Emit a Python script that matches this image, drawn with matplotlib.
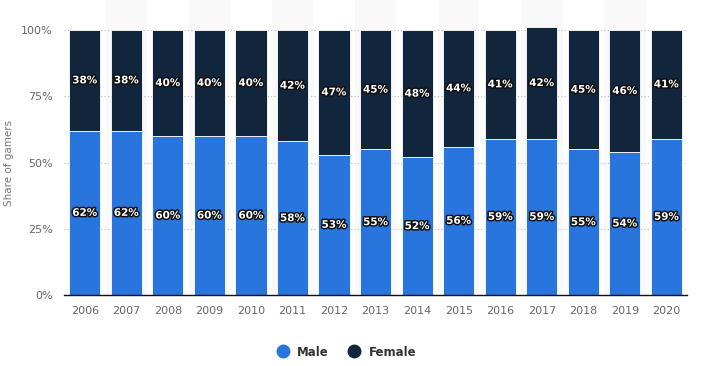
import matplotlib.pyplot as plt
import matplotlib.patheffects as pe
from matplotlib.lines import Line2D

# Data
years = ["2006", "2007", "2008", "2009", "2010", "2011", "2012", "2013",
         "2014", "2015", "2016", "2017", "2018", "2019", "2020"]
male = [62, 62, 60, 60, 60, 58, 53, 55, 52, 56, 59, 59, 55, 54, 59]
female = [38, 38, 40, 40, 40, 42, 47, 45, 48, 44, 41, 42, 45, 46, 41]

MALE_COLOR = "#2876dd"
FEMALE_COLOR = "#11263c"

fig = plt.figure(figsize=(7.01, 3.66), dpi=100)
ax = fig.add_axes([0.0913, 0.194, 0.889, 0.724])

x = list(range(len(years)))

# faint alternating column bands
for i in x:
    if i % 2 == 1:
        ax.axvspan(i - 0.5, i + 0.5, ymin=0, ymax=1.12, color="#f9f9f9",
                   zorder=0, clip_on=False, lw=0)

ax.bar(x, male, width=0.75, color=MALE_COLOR, zorder=2, clip_on=False,
       edgecolor="white", linewidth=0.6)
ax.bar(x, female, width=0.75, bottom=male, color=FEMALE_COLOR, zorder=2,
       clip_on=False, edgecolor="white", linewidth=0.6)

stroke = [pe.withStroke(linewidth=2.2, foreground="#111111")]
for i in x:
    ax.text(i, male[i] / 2, f"{male[i]}%", ha="center", va="center",
            color="white", fontsize=7.5, fontweight="bold",
            path_effects=stroke, zorder=3)
    ax.text(i, male[i] + female[i] / 2, f"{female[i]}%", ha="center",
            va="center", color="white", fontsize=7.5, fontweight="bold",
            path_effects=stroke, zorder=3)

ax.set_xlim(-0.5, len(years) - 0.5)
ax.set_ylim(0, 100)
ax.set_xticks(x)
ax.set_xticklabels(years)
ax.set_yticks([0, 25, 50, 75, 100])
ax.set_yticklabels(["0%", "25%", "50%", "75%", "100%"])
ax.tick_params(axis="both", length=0, labelsize=8, colors="#666666")
ax.tick_params(axis="x", pad=8)
ax.tick_params(axis="y", pad=8)
ax.yaxis.grid(True, linestyle=(0, (1, 2)), color="#bbbbbb", linewidth=0.8)
ax.set_axisbelow(True)
for s in ["top", "right", "left"]:
    ax.spines[s].set_visible(False)
ax.spines["bottom"].set_color("#111111")
ax.spines["bottom"].set_linewidth(1)
ax.spines["bottom"].set_zorder(4)

ax.set_ylabel("Share of gamers", fontsize=7.5, color="#777777", labelpad=5)

handles = [
    Line2D([], [], marker="o", linestyle="", markersize=9,
           markerfacecolor=MALE_COLOR, markeredgecolor=MALE_COLOR, label="Male"),
    Line2D([], [], marker="o", linestyle="", markersize=9,
           markerfacecolor=FEMALE_COLOR, markeredgecolor=FEMALE_COLOR, label="Female"),
]
leg = fig.legend(handles=handles, loc="center", bbox_to_anchor=(0.49, 0.038),
                 ncol=2, frameon=False, handletextpad=0.2, columnspacing=1.2,
                 prop={"size": 8.5, "weight": "bold"})
for t in leg.get_texts():
    t.set_color("#333333")

fig.savefig("out.png", dpi=100)
